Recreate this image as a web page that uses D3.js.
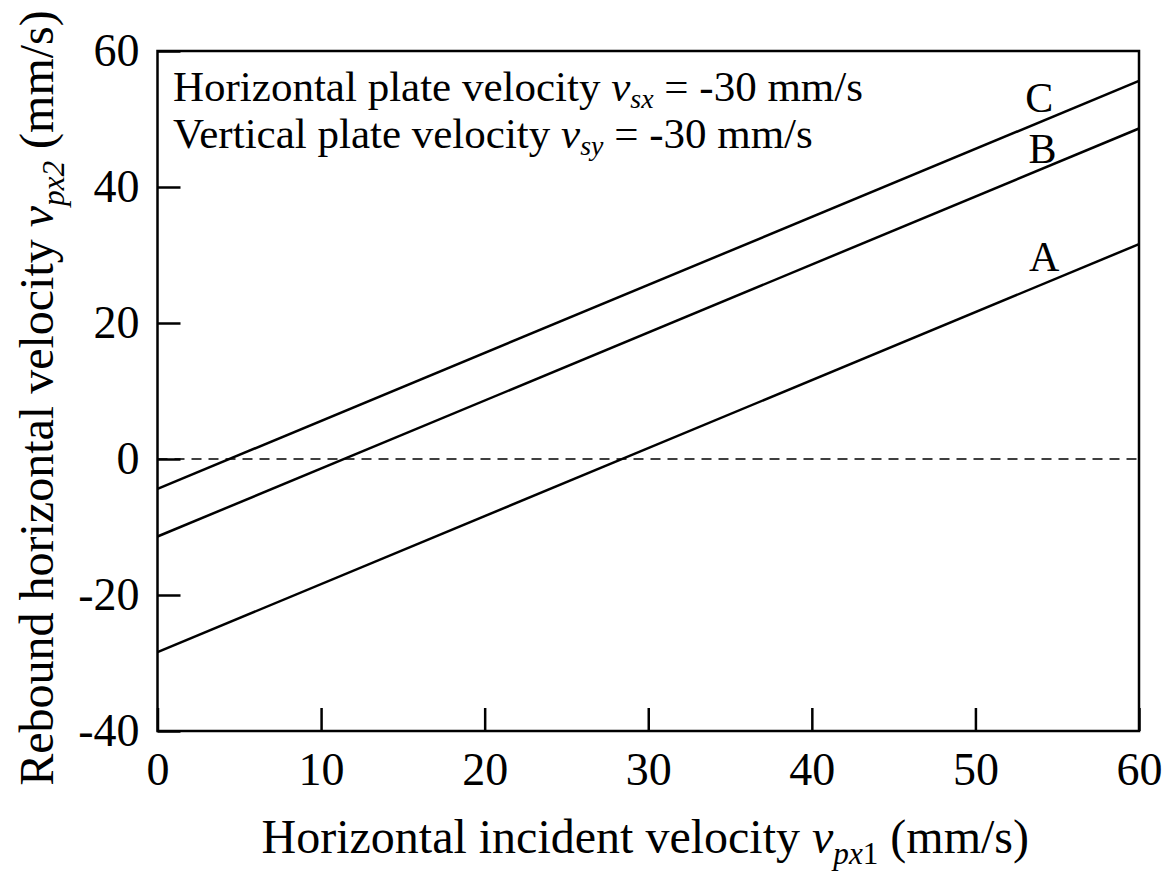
<!DOCTYPE html>
<html>
<head>
<meta charset="utf-8">
<script src="https://cdn.jsdelivr.net/npm/d3@7"></script>
<style>
  body { margin: 0; background: #fff; }
  svg { display: block; }
  text { font-family: "Liberation Serif", "Times New Roman", serif; fill: #000; }
</style>
</head>
<body>
<svg id="chart"></svg>
<script>
// data: each line is straight, given by its two end points
var seriesNames = ['A', 'B', 'C']
var xEnds = [0, 60]
var seriesA = [-28.4, 31.6]
var seriesB = [-11.4, 48.6]
var seriesC = [-4.4, 55.6]
var xTicks = [0, 10, 20, 30, 40, 50, 60]
var yTicks = [-40, -20, 0, 20, 40, 60]
// where the A/B/C names sit, in data units
var labelX = [54.2, 54.1, 53.9]
var labelY = [27.7, 43.6, 51.0]

var width = 1172
var height = 877
var margin = { top: 51, right: 33, bottom: 146, left: 157.5 }

var svg = d3.select('#chart').attr('width', width).attr('height', height)

var x = d3.scaleLinear()
  .domain([0, 60])
  .range([margin.left, width - margin.right])

var y = d3.scaleLinear()
  .domain([-40, 60])
  .range([height - margin.bottom, margin.top])

// plain hyphen for negatives, like the original
var fmt = d => String(d)

var xAxis = g => g
  .attr('transform', `translate(0,${height - margin.bottom})`)
  .call(d3.axisBottom(x).tickValues(xTicks).tickSize(-23).tickPadding(21).tickFormat(fmt))
  .call(g => g.select('.domain').remove())
  .call(g => g.selectAll('.tick line').attr('stroke', '#000').attr('stroke-width', 2.5))
  .call(g => g.selectAll('.tick text').attr('font-size', 46).attr('font-family', '"Liberation Serif", serif'))

var yAxis = g => g
  .attr('transform', `translate(${margin.left},0)`)
  .call(d3.axisLeft(y).tickValues(yTicks).tickSize(-23).tickPadding(18).tickFormat(fmt))
  .call(g => g.select('.domain').remove())
  .call(g => g.selectAll('.tick line').attr('stroke', '#000').attr('stroke-width', 2.5))
  .call(g => g.selectAll('.tick text').attr('font-size', 46).attr('font-family', '"Liberation Serif", serif'))

// zero line
svg.append('line')
  .attr('x1', x(0)).attr('x2', x(60))
  .attr('y1', y(0)).attr('y2', y(0))
  .attr('stroke', '#000')
  .attr('stroke-width', 1.5)
  .attr('stroke-dasharray', '10,7')

svg.append('g').call(xAxis)
svg.append('g').call(yAxis)

var line = d3.line()
  .x(d => x(d[0]))
  .y(d => y(d[1]))

var allSeries = [seriesA, seriesB, seriesC]

svg.append('g')
  .selectAll('path')
  .data(allSeries)
  .enter()
  .append('path')
  .attr('fill', 'none')
  .attr('stroke', '#000')
  .attr('stroke-width', 2.5)
  .attr('d', s => line(xEnds.map((xv, i) => [xv, s[i]])))

svg.append('g')
  .selectAll('text')
  .data(seriesNames)
  .enter()
  .append('text')
  .attr('x', (d, i) => x(labelX[i]))
  .attr('y', (d, i) => y(labelY[i]))
  .attr('text-anchor', 'middle')
  .attr('font-size', 42)
  .text(d => d)

// frame
svg.append('rect')
  .attr('x', x(0))
  .attr('y', y(60))
  .attr('width', x(60) - x(0))
  .attr('height', y(-40) - y(60))
  .attr('fill', 'none')
  .attr('stroke', '#000')
  .attr('stroke-width', 2.5)

// text with italic v and subscripts
function richText(sel, parts) {
  parts.forEach(p => {
    var t = sel.append('tspan').text(p.t)
    if (p.i) t.attr('font-style', 'italic')
    if (p.sub) t.attr('font-size', '0.65em')
    if (p.x != null) t.attr('x', p.x)
    if (p.dy) t.attr('dy', p.dy)
  })
}

// the two condition lines in one text block
var note = svg.append('text').attr('x', 173).attr('y', 101).attr('font-size', 43)
richText(note, [
  { t: 'Horizontal plate velocity ' },
  { t: 'v', i: true },
  { t: 'sx', i: true, sub: true, dy: 7 },
  { t: ' = -30 mm/s', dy: -7 },
  { t: 'Vertical plate velocity ', x: 173, dy: 47 },
  { t: 'v', i: true },
  { t: 'sy', i: true, sub: true, dy: 7 },
  { t: ' = -30 mm/s', dy: -7 }
])

var xLabel = svg.append('text')
  .attr('x', (x(0) + x(60)) / 2 - 3)
  .attr('y', 853)
  .attr('text-anchor', 'middle')
  .attr('font-size', 48)
richText(xLabel, [
  { t: 'Horizontal incident velocity ' },
  { t: 'v', i: true },
  { t: 'px', i: true, sub: true, dy: 11 },
  { t: '1', sub: true },
  { t: ' (mm/s)', dy: -11 }
])

var yLabel = svg.append('text')
  .attr('transform', 'translate(53,398) rotate(-90)')
  .attr('text-anchor', 'middle')
  .attr('font-size', 48)
richText(yLabel, [
  { t: 'Rebound horizontal velocity ' },
  { t: 'v', i: true },
  { t: 'px2', i: true, sub: true, dy: 11 },
  { t: ' (mm/s)', dy: -11 }
])
</script>
</body>
</html>
